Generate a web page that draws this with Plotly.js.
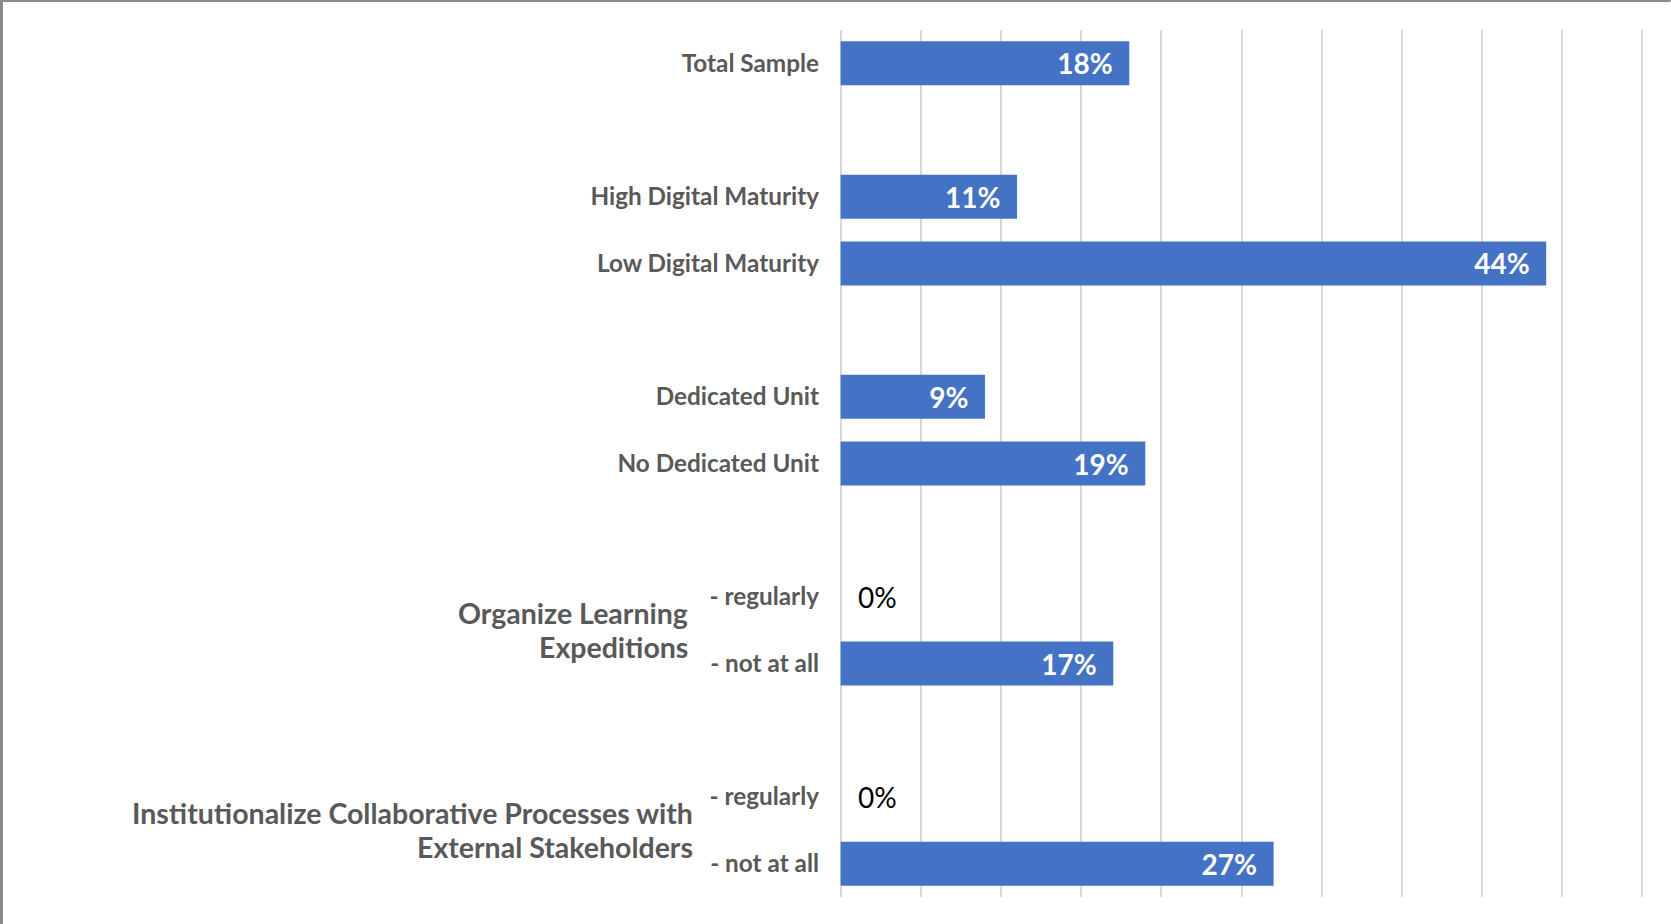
<!DOCTYPE html>
<html>
<head>
<meta charset="utf-8">
<script src="https://cdn.plot.ly/plotly-3.0.1.min.js"></script>
<style>
  body { margin: 0; background: #fff; }
  #plot { width: 1671px; height: 924px; box-sizing: border-box; border-top: 2px solid #8a8a8a; border-left: 3px solid #8a8a8a; border-right: 1px solid #e6e6e6; }
</style>
</head>
<body>
<div id="plot"></div>
<script>
// rows from top to bottom, "" = spacer row between groups
var labels = ["Total Sample", "", "High Digital Maturity", "Low Digital Maturity", "",
              "Dedicated Unit", "No Dedicated Unit", "",
              "- regularly", "- not at all", "",
              "- regularly", "- not at all"];
var shares = [18, null, 11, 44, null, 9, 19, null, 0, 17, null, 0, 27];

// group titles sit between their two sub rows (one entry per line)
var groupTitles = [["Organize Learning", "Expeditions"],
                   ["Institutionalize Collaborative Processes with", "External Stakeholders"]];
var groupRows = [8.5, 11.5];

var rows = labels.map((l, i) => i);

var trace = {
    type: "bar",
    orientation: "h",
    x: shares,
    y: rows,
    marker: {color: "#4472C4"},
    text: shares.map(v => v === null ? "" : (v === 0 ? "\u00a0\u00a0" + v + "%" : v + "%\u00a0\u00a0")),
    textposition: shares.map(v => v === 0 ? "outside" : "inside"),
    insidetextanchor: "end",
    textfont: {family: "Lato", size: 28},
    insidetextfont: {family: "Lato", size: 28, color: "#ffffff", weight: "bold"},
    outsidetextfont: {family: "Lato", size: 28, color: "#000000"},
    cliponaxis: false,
    hoverinfo: "skip"
};

var annotations = [];
groupTitles.forEach((lines, i) => {
    lines.forEach((line, j) => {
        annotations.push({
            text: line,
            xref: "paper",
            yref: "y",
            x: 0,
            y: groupRows[i],
            xanchor: "right",
            yanchor: "middle",
            xshift: i === 0 ? -150 : -145,
            yshift: j === 0 ? 17 : -17,
            showarrow: false,
            font: {family: "Lato", size: 28.5, color: "#595959", weight: "bold"}
        });
    });
});

var layout = {
    width: 1671,
    height: 924,
    margin: {l: 837, r: 30, t: 28, b: 29},
    paper_bgcolor: "#ffffff",
    plot_bgcolor: "#ffffff",
    bargap: 0.34,
    showlegend: false,
    xaxis: {
        range: [-0.04, 50.1],
        tick0: 0,
        dtick: 5,
        showgrid: true,
        gridcolor: "#d9d9d9",
        gridwidth: 2,
        zeroline: true,
        zerolinecolor: "#d9d9d9",
        zerolinewidth: 2,
        showticklabels: false,
        showline: false,
        fixedrange: true
    },
    yaxis: {
        range: [12.5, -0.5],
        tickvals: rows,
        ticktext: labels,
        tickfont: {family: "Lato", size: 24.3, color: "#595959", weight: "bold"},
        ticklabelstandoff: 20,
        showgrid: false,
        zeroline: false,
        showline: false,
        fixedrange: true
    },
    annotations: annotations
};

Plotly.newPlot("plot", [trace], layout, {displayModeBar: false, staticPlot: true});
</script>
</body>
</html>
